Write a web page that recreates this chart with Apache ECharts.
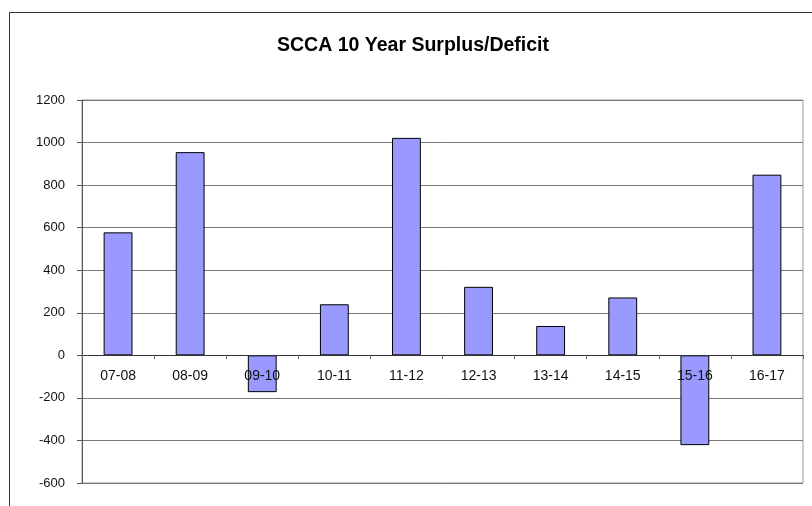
<!DOCTYPE html>
<html>
<head>
<meta charset="utf-8">
<script src="https://cdn.jsdelivr.net/npm/echarts@6/dist/echarts.min.js"></script>
<style>html,body{margin:0;padding:0;background:#fff;}#c{width:812px;height:506px;}</style>
</head>
<body>
<div id="c"></div>
<script>
const categories = ['07-08','08-09','09-10','10-11','11-12','12-13','13-14','14-15','15-16','16-17'];
const values = [578, 955, -173, 240, 1022, 322, 138, 272, -422, 849];
const yTicks = {min: -600, max: 1200, interval: 200};

const chart = echarts.init(document.getElementById('c'));
chart.setOption({
  animation: false,
  backgroundColor: '#fff',
  graphic: [{
    type: 'rect', left: 7, top: 10, shape: {width: 803, height: 520},
    style: {fill: 'none', stroke: '#333', lineWidth: 1}, silent: true
  }],
  title: {
    text: 'SCCA 10 Year Surplus/Deficit',
    left: 272, top: 31,
    textStyle: {fontFamily: 'Liberation Sans, Arial', fontWeight: 'bold', fontSize: 19.5, color: '#000'}
  },
  grid: {left: 82, right: 9, top: 100, bottom: 23, show: true, borderColor: '#999', borderWidth: 1, backgroundColor: 'transparent'},
  xAxis: {
    type: 'category', data: categories,
    offset: -128, z: 5,
    axisLine: {onZero: false, lineStyle: {color: '#333', width: 1}},
    axisTick: {show: true, length: 4, lineStyle: {color: '#666'}},
    axisLabel: {color: '#111', fontFamily: 'Liberation Sans, Arial', fontSize: 14, margin: 14},
    splitLine: {show: false}
  },
  yAxis: {
    type: 'value', min: yTicks.min, max: yTicks.max, interval: yTicks.interval,
    axisLine: {show: true, lineStyle: {color: '#555'}},
    axisTick: {show: true, length: 5, lineStyle: {color: '#555'}},
    axisLabel: {color: '#111', fontFamily: 'Liberation Sans, Arial', fontSize: 13, margin: 17,
      formatter: v => String(v)},
    splitLine: {show: true, lineStyle: {color: '#777', width: 1}}
  },
  series: [{
    type: 'bar', data: values, barWidth: '40%',
    itemStyle: {color: '#9999FF', borderColor: '#000', borderWidth: 1}
  }]
});
</script>
</body>
</html>
